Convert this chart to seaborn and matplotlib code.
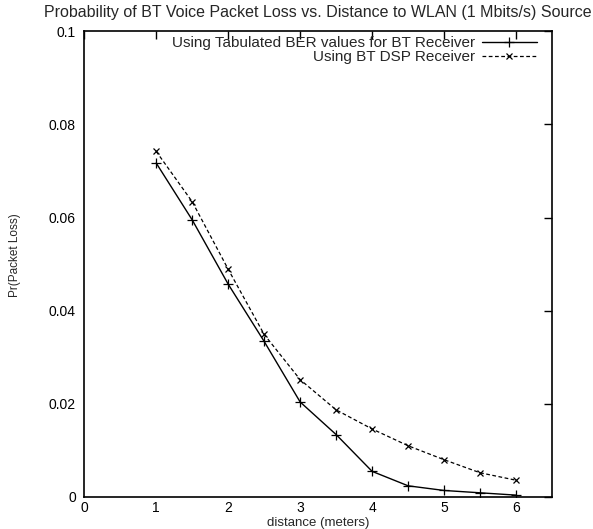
import matplotlib
matplotlib.use("Agg")
import matplotlib.pyplot as plt
import seaborn as sns
import pandas as pd

distance = [1.0, 1.5, 2.0, 2.5, 3.0, 3.5, 4.0, 4.5, 5.0, 5.5, 6.0]
tabulated_ber = [0.0717, 0.0595, 0.0457, 0.0334, 0.0204, 0.0134, 0.0055, 0.0024, 0.0014, 0.0009, 0.0004]
dsp_receiver = [0.0742, 0.0634, 0.0489, 0.0349, 0.0252, 0.0187, 0.0146, 0.0110, 0.0080, 0.0052, 0.0036]
series_names = ["Using Tabulated BER values for BT Receiver", "Using BT DSP Receiver"]
x_ticks = [0, 1, 2, 3, 4, 5, 6]
y_ticks = [0, 0.02, 0.04, 0.06, 0.08, 0.1]
y_tick_labels = ["0", "0.02", "0.04", "0.06", "0.08", "0.1"]

sns.set_style("white")
plt.rcParams["font.family"] = ["Liberation Sans", "DejaVu Sans"]

fig = plt.figure(figsize=(5.93, 5.29), dpi=100)
ax = fig.add_axes([0.142, 0.0605, 0.789, 0.8805])

df1 = pd.DataFrame({"x": distance, "y": tabulated_ber})
df2 = pd.DataFrame({"x": distance, "y": dsp_receiver})
sns.lineplot(data=df1, x="x", y="y", ax=ax, color="black", linewidth=1.0,
             marker="+", markersize=6.5, markeredgewidth=0.9, markeredgecolor="black",
             linestyle="-", label=series_names[0])
sns.lineplot(data=df2, x="x", y="y", ax=ax, color="black", linewidth=0.9,
             marker="x", markersize=5, markeredgewidth=0.9, markeredgecolor="black",
             linestyle=(0, (3, 2)), label=series_names[1])

ax.set_xlim(0, 6.5)
ax.set_ylim(0, 0.1)
ax.set_xticks(x_ticks)
ax.set_xticklabels([str(t) for t in x_ticks])
ax.set_yticks(y_ticks)
ax.set_yticklabels(y_tick_labels)
ax.tick_params(direction="in", length=6, width=1, top=True, right=True,
               labelsize=10, colors="black")
ax.tick_params(axis="x", pad=3)
ax.tick_params(axis="y", pad=6)
for s in ax.spines.values():
    s.set_visible(True)
    s.set_color("black")
    s.set_linewidth(1.2)

ax.set_xlabel("distance (meters)", fontsize=9.5)
ax.xaxis.set_label_coords(0.5, -0.042)
ax.set_ylabel("Pr(Packet Loss)", fontsize=8.5)
ax.yaxis.set_label_coords(-0.135, 0.52)
ax.set_title("Probability of BT Voice Packet Loss vs. Distance to WLAN (1 Mbits/s) Source",
             fontsize=11.5, pad=10)

leg = ax.legend(loc="upper right", frameon=False, markerfirst=False, fontsize=11,
                handlelength=3.6, borderaxespad=0.0, borderpad=0.1, labelspacing=0.0,
                handletextpad=0.4, bbox_to_anchor=(0.97, 0.993))
for t in leg.get_texts():
    t.set_ha("right")
leg._legend_box.align = "right"

fig.savefig("out.png", dpi=100)
